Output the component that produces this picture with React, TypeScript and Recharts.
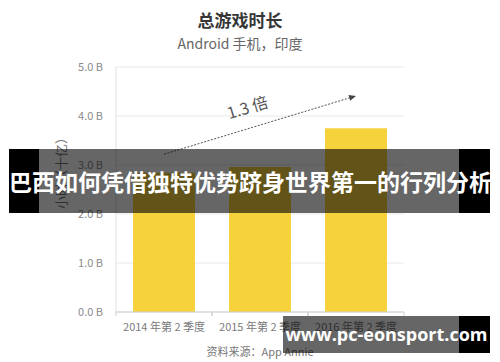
import React from "react"
import {
  BarChart,
  Bar,
  XAxis,
  YAxis,
  CartesianGrid,
  ReferenceLine
} from "recharts"

const quarters = ["2014 年第 2 季度", "2015 年第 2 季度", "2016 年第 2 季度"]
const playHours = [2.84, 2.96, 3.75] // billions of hours
const yTicks = [0, 1, 2, 3, 4, 5]
const growthLabel = "1.3 倍"
const arrowFrom = 3.22
const arrowTo = 4.41

const FONT = '"Noto Sans CJK SC", "Noto Sans", sans-serif'

const data = quarters.map((q, i) => ({ quarter: q, hours: playHours[i] }))

// quarter label plus small marks at the band edges
function QuarterTick(props: any) {
  const { x, y, payload } = props
  const half = 48
  return (
    <g>
      <line x1={x - half} y1={y} x2={x - half} y2={y + 4} stroke="#cfcfcf" />
      <line x1={x + half} y1={y} x2={x + half} y2={y + 4} stroke="#cfcfcf" />
      <text x={x} y={y + 19} textAnchor="middle" fontSize={11} fill="#7a7a7a" fontFamily={FONT}>
        {payload.value}
      </text>
    </g>
  )
}

// dashed growth arrow with its ratio label
function GrowthArrow(props: any) {
  const { x1, y1, x2, y2 } = props
  const ang = Math.atan2(y2 - y1, x2 - x1)
  const deg = (ang * 180) / Math.PI
  const head = 7
  const hx = x2 - head * Math.cos(ang)
  const hy = y2 - head * Math.sin(ang)
  const px = Math.sin(ang) * 3
  const py = -Math.cos(ang) * 3
  const mx = (x1 + x2) / 2 - 12
  const my = (y1 + y2) / 2 - 16
  return (
    <g>
      <line x1={x1} y1={y1} x2={hx} y2={hy} stroke="#555" strokeWidth={1} strokeDasharray="2 1.5" />
      <polygon points={`${x2},${y2} ${hx + px},${hy + py} ${hx - px},${hy - py}`} fill="#444" />
      <text
        x={mx}
        y={my}
        textAnchor="middle"
        dominantBaseline="middle"
        fontSize={16}
        fill="#555"
        fontFamily={FONT}
        transform={`rotate(${deg} ${mx} ${my})`}
      >
        {growthLabel}
      </text>
    </g>
  )
}

// rotated axis title drawn in the chart's own svg
function HoursTitle() {
  return (
    <text
      x={62}
      y={170}
      textAnchor="middle"
      dominantBaseline="middle"
      fontSize={13}
      fill="#777"
      fontFamily={FONT}
      transform="rotate(-90 62 170)"
    >
      小时（十亿）
    </text>
  )
}

export default function App() {
  return (
    <div
      style={{
        position: "absolute",
        left: 0,
        top: 0,
        width: 500,
        height: 362,
        background: "#fff",
        overflow: "hidden",
        fontFamily: FONT
      }}
    >
      <div style={{ position: "absolute", left: 0, width: 480, top: 7, textAlign: "center", fontSize: 17, fontWeight: 700, color: "#363636" }}>
        总游戏时长
      </div>
      <div style={{ position: "absolute", left: 0, width: 480, top: 33, textAlign: "center", fontSize: 14, color: "#666" }}>
        Android 手机，印度
      </div>

      <div style={{ position: "absolute", left: 0, top: 0 }}>
        <svg width={500} height={362} style={{ position: "absolute", left: 0, top: 0 }}>
          <HoursTitle />
        </svg>
        <BarChart width={500} height={362} data={data} margin={{ top: 67, right: 96, bottom: 20, left: 56 }}>
          <CartesianGrid vertical={false} stroke="#e8e8e8" />
          <XAxis
            dataKey="quarter"
            height={30}
            axisLine={{ stroke: "#cfcfcf" }}
            tickLine={false}
            tickSize={0}
            tickMargin={0}
            tick={<QuarterTick />}
            interval={0}
          />
          <YAxis
            width={60}
            domain={[0, 5]}
            ticks={yTicks}
            axisLine={{ stroke: "#e0e0e0" }}
            tickLine={false}
            tickSize={0}
            tickMargin={13}
            tick={{ fontSize: 11, fill: "#8a8a8a", fontFamily: FONT }}
            tickFormatter={(v: number) => `${v.toFixed(1)} B`}
          />
          <Bar dataKey="hours" fill="#F6D33D" barSize={62} isAnimationActive={false} />
          <ReferenceLine
            segment={[
              { x: quarters[0], y: arrowFrom },
              { x: quarters[2], y: arrowTo }
            ]}
            shape={<GrowthArrow />}
            ifOverflow="visible"
          />
        </BarChart>
      </div>

      <div style={{ position: "absolute", left: 0, width: 520, top: 343, textAlign: "center", fontSize: 11, color: "#777" }}>
        资料来源：App Annie
      </div>

      {/* headline banner */}
      <div style={{ position: "absolute", left: 9, top: 149, width: 481, height: 64, background: "rgba(0,0,0,0.6)" }} />
      <div style={{ position: "absolute", left: 9, top: 149, width: 30, height: 64, background: "#000" }} />
      <div style={{ position: "absolute", left: 459, top: 149, width: 31, height: 64, background: "#000" }} />
      <div
        style={{
          position: "absolute",
          left: 9,
          top: 149,
          width: 481,
          height: 64,
          lineHeight: "64px",
          textAlign: "center",
          color: "#fff",
          fontSize: 23,
          fontWeight: 700,
          whiteSpace: "nowrap"
        }}
      >
        巴西如何凭借独特优势跻身世界第一的行列分析
      </div>

      {/* site tag */}
      <div style={{ position: "absolute", left: 283, top: 316, width: 207, height: 37, background: "rgba(0,0,0,0.6)" }} />
      <div style={{ position: "absolute", left: 459, top: 316, width: 31, height: 37, background: "#000" }} />
      <div
        style={{
          position: "absolute",
          left: 283,
          top: 316,
          width: 207,
          height: 37,
          lineHeight: "37px",
          textAlign: "center",
          color: "#fff",
          fontSize: 18,
          fontWeight: 700,
          fontFamily: '"Open Sans", "Noto Sans", sans-serif',
          whiteSpace: "nowrap"
        }}
      >
        www.pc-eonsport.com
      </div>
    </div>
  )
}
